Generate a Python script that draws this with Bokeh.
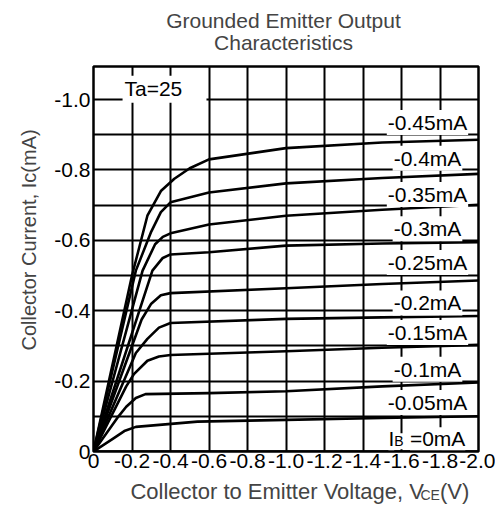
from bokeh.plotting import figure
from bokeh.layouts import column
from bokeh.models import Range1d, FixedTicker, Label, BoxAnnotation, Title
from bokeh.embed import file_html
from bokeh.resources import INLINE

FONT = "Liberation Sans"

# ---- axes / ticks ----
X_TICKS = [0, -0.2, -0.4, -0.6, -0.8, -1.0, -1.2, -1.4, -1.6, -1.8, -2.0]
X_TICK_LABELS = ["0", "-0.2", "-0.4", "-0.6", "-0.8", "-1.0", "-1.2", "-1.4", "-1.6", "-1.8", "-2.0"]
Y_TICKS = [0, -0.2, -0.4, -0.6, -0.8, -1.0]
Y_TICK_LABELS = ["0", "-0.2", "-0.4", "-0.6", "-0.8", "-1.0"]
Y_GRID = [0, -0.1, -0.2, -0.3, -0.4, -0.5, -0.6, -0.7, -0.8, -0.9, -1.0]

TITLE_LINES = ["Grounded Emitter Output", "Characteristics"]
Y_TITLE = "Collector Current, Ic(mA)"
X_TITLE_PARTS = ["Collector  to Emitter Voltage, V", "CE", "(V)"]

# ---- curves (Vce in V, Ic in mA) ----
IB_NAMES = ["-0.45mA", "-0.4mA", "-0.35mA", "-0.3mA", "-0.25mA",
            "-0.2mA", "-0.15mA", "-0.1mA", "-0.05mA"]
IB_ZERO_PARTS = ["I", "B", "=0mA"]

VCE_045 = [0, -0.10, -0.20, -0.28, -0.35, -0.42, -0.50, -0.60, -1.0, -1.5, -2.0]
IC_045 = [0, -0.25, -0.50, -0.67, -0.74, -0.775, -0.805, -0.83, -0.862, -0.878, -0.886]
VCE_040 = [0, -0.22, -0.30, -0.35, -0.40, -0.60, -1.0, -1.5, -2.0]
IC_040 = [0, -0.514, -0.625, -0.68, -0.708, -0.736, -0.762, -0.777, -0.789]
VCE_035 = [0, -0.255, -0.32, -0.36, -0.40, -0.60, -1.0, -1.5, -2.0]
IC_035 = [0, -0.514, -0.589, -0.61, -0.62, -0.645, -0.67, -0.687, -0.701]
VCE_030 = [0, -0.306, -0.36, -0.40, -0.60, -1.0, -1.5, -2.0]
IC_030 = [0, -0.514, -0.55, -0.56, -0.566, -0.585, -0.591, -0.595]
VCE_025 = [0, -0.25, -0.30, -0.35, -0.40, -1.0, -1.5, -2.0]
IC_025 = [0, -0.375, -0.42, -0.444, -0.45, -0.464, -0.476, -0.486]
VCE_020 = [0, -0.22, -0.28, -0.34, -0.40, -1.0, -1.5, -2.0]
IC_020 = [0, -0.28, -0.32, -0.352, -0.365, -0.377, -0.381, -0.385]
VCE_015 = [0, -0.17, -0.21, -0.28, -0.34, -0.40, -1.0, -1.5, -2.0]
IC_015 = [0, -0.185, -0.22, -0.258, -0.27, -0.274, -0.285, -0.295, -0.303]
VCE_010 = [0, -0.13, -0.17, -0.22, -0.27, -0.60, -1.0, -1.5, -2.0]
IC_010 = [0, -0.10, -0.127, -0.152, -0.163, -0.166, -0.171, -0.185, -0.196]
VCE_005 = [0, -0.10, -0.16, -0.22, -0.54, -1.0, -1.5, -2.0]
IC_005 = [0, -0.036, -0.058, -0.07, -0.085, -0.09, -0.095, -0.100]
VCE_000 = [0, -2.0]
IC_000 = [0, 0]

# Ic value at each label's centre
LABEL_IC = [-0.935, -0.833, -0.730, -0.633, -0.537, -0.422, -0.338, -0.234, -0.139]
LABEL_IC_ZERO = -0.036

SERIES = [(VCE_045, IC_045), (VCE_040, IC_040), (VCE_035, IC_035), (VCE_030, IC_030),
          (VCE_025, IC_025), (VCE_020, IC_020), (VCE_015, IC_015), (VCE_010, IC_010),
          (VCE_005, IC_005), (VCE_000, IC_000)]

W = 495
BL, BR = 93, 17


def strip(height, x_range):
    f = figure(width=W, height=height, output_backend="svg", toolbar_location=None, title=None,
               x_range=x_range, y_range=Range1d(0, height), x_axis_type=None, y_axis_type=None,
               min_border_left=BL, min_border_right=BR, min_border_top=0, min_border_bottom=0)
    f.outline_line_color = None
    f.grid.visible = False
    f.background_fill_color = "white"
    f.border_fill_color = "white"
    return f


p = figure(width=W, height=420, output_backend="svg", toolbar_location=None, title=None,
           x_range=Range1d(0, -2.0), y_range=Range1d(0, -1.094),
           min_border_left=BL, min_border_right=BR, min_border_top=8, min_border_bottom=27)
p.background_fill_color = "white"
p.border_fill_color = "white"
p.outline_line_color = "black"
p.outline_line_width = 2.5

for ax in (p.xaxis[0], p.yaxis[0]):
    ax.axis_line_color = None
    ax.major_tick_out = 0
    ax.major_tick_in = 0
    ax.minor_tick_out = 0
    ax.minor_tick_in = 0
    ax.major_label_text_font = FONT
    ax.major_label_text_font_size = "21px"
    ax.major_label_text_color = "black"

p.xaxis[0].ticker = FixedTicker(ticks=X_TICKS)
p.xaxis[0].major_label_overrides = dict(zip(X_TICKS, X_TICK_LABELS))
p.xaxis[0].major_label_standoff = 2
p.yaxis[0].ticker = FixedTicker(ticks=Y_TICKS)
p.yaxis[0].major_label_overrides = dict(zip(Y_TICKS, Y_TICK_LABELS))
p.yaxis[0].major_label_standoff = 3

p.xgrid.ticker = FixedTicker(ticks=X_TICKS)
p.ygrid.ticker = FixedTicker(ticks=Y_GRID)
for g in (p.xgrid[0], p.ygrid[0]):
    g.grid_line_color = "black"
    g.grid_line_width = 2
    g.grid_line_alpha = 1

for vce, ic in SERIES:
    p.line(vce, ic, line_color="black", line_width=2.6, line_join="round")

# y-axis title
p.add_layout(Title(text=Y_TITLE, align="left", text_font=FONT, text_font_size="20px",
                   text_font_style="normal", standoff=23, offset=101), "left")

# Ta=25 box
p.add_layout(BoxAnnotation(left=-0.151, right=-0.587, top=-1.068, bottom=-0.991,
                           fill_color="white", fill_alpha=1, line_color=None, level="annotation"))
p.add_layout(Label(x=-0.161, y=-1.031, text="Ta=25", text_font=FONT, text_font_size="21px",
                   text_baseline="middle", text_align="left", text_color="black"))

# current labels
for name, ly in zip(IB_NAMES, LABEL_IC):
    p.add_layout(Label(x=-1.735, y=ly, text=name, text_font=FONT, text_font_size="21px",
                       text_baseline="middle", text_align="center", text_color="black",
                       background_fill_color="white", padding=1))

# IB =0mA with small B
for txt, fs, off, dy in zip(IB_ZERO_PARTS, ["21px", "14px", "21px"], [0, 5.8, 21.5], [0, 2.4, 0]):
    p.add_layout(Label(x=-1.532, y=LABEL_IC_ZERO + dy / 352, x_offset=off, text=txt,
                       text_font=FONT, text_font_size=fs, text_baseline="middle",
                       text_align="left", text_color="black", background_fill_color="white"))

# title strip (above)
p0 = strip(58, p.x_range)
for txt, yy in zip(TITLE_LINES, [38.3, 16.3]):
    p0.add_layout(Label(x=-0.987, y=yy, text=txt, text_font=FONT, text_font_size="21px",
                        text_align="center", text_baseline="middle"))

# x-axis title strip (below)
p2 = strip(31, p.x_range)
for txt, fs, off, yy in zip(X_TITLE_PARTS, ["22px", "14px", "22px"], [0, 290, 309.5],
                            [17.6, 14.85, 17.6]):
    p2.add_layout(Label(x=-0.192, y=yy, x_offset=off, text=txt, text_font=FONT,
                        text_font_size=fs, text_baseline="middle", text_align="left"))

layout = column(p0, p, p2, spacing=0)
open("out.html", "w").write(file_html(layout, INLINE))
